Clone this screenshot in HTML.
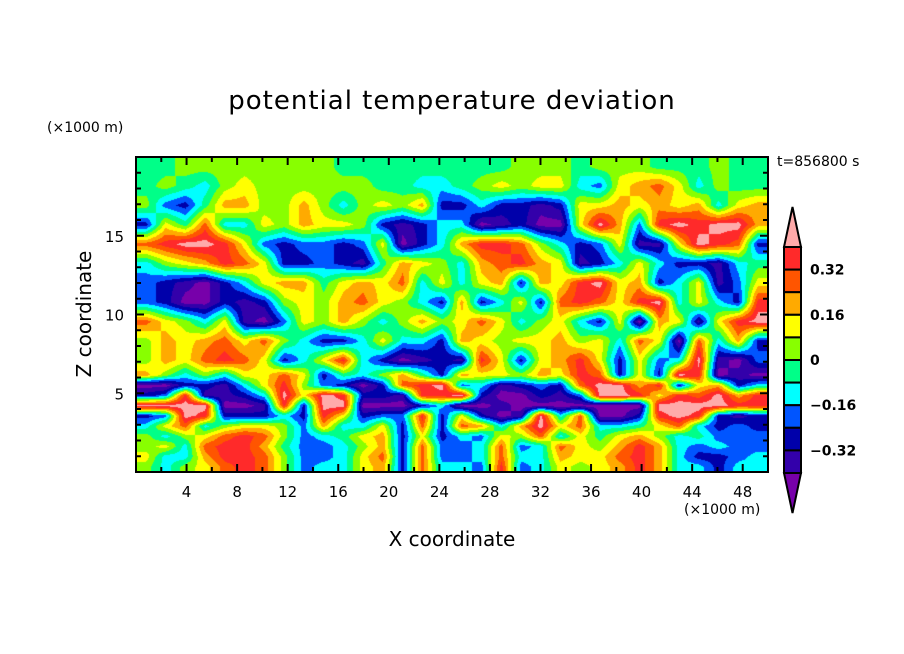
<!DOCTYPE html>
<html><head><meta charset="utf-8">
<style>
html,body{margin:0;padding:0;background:#fff;}
#wrap{position:relative;width:904px;height:654px;overflow:hidden;font-family:"DejaVu Sans","Liberation Sans",sans-serif;color:#000;}
.t{position:absolute;white-space:nowrap;}
canvas{position:absolute;left:136px;top:157px;}
svg{position:absolute;left:0;top:0;}
</style></head>
<body>
<div id="wrap">
<div class="t" style="left:0;width:904px;text-align:center;top:86px;font-size:26px;letter-spacing:1px;">potential temperature deviation</div>
<div class="t" style="left:47px;top:120px;font-size:14px;">(×1000 m)</div>
<div class="t" style="left:777px;top:154px;font-size:14px;">t=856800 s</div>
<div class="t" style="left:-16px;top:302px;width:200px;text-align:center;font-size:20px;transform:rotate(-90deg);">Z coordinate</div>
<div class="t" style="left:300px;width:304px;text-align:center;top:527px;font-size:20px;">X coordinate</div>
<div class="t" style="left:684px;top:502px;font-size:14px;">(×1000 m)</div>
<canvas id="field" width="632" height="315"></canvas>
<svg id="axes" width="904" height="654"></svg>
</div>
<script>
// field grids (values in 0.01 K). Upper: z from 20 km down to ~6.5 km, lower: ~6.5 km to 0
const gridCols = 32;
const upperRows = [
[-4,-4,4,4,4,4,4,4,4,4,-4,-4,-4,-4,-4,-4, -4,-4,-4,4,4,4,-4,4,4,4,-4,-4,-4,4,-4,-4],
[-4,4,-4,-12,4,12,4,4,4,4,4,4,-4,-4,-12,-12, -4,4,12,4,12,12,-12,-20,12,20,28,12,-12,4,-4,-4],
[4,-20,-28,-4,20,20,4,4,20,4,-12,4,12,4,20,-28, -28,-12,-28,-28,-36,-28,12,12,20,12,20,12,20,-12,12,20],
[-28,12,-4,28,-12,-12,12,4,20,12,12,4,-28,-36,-28,-12, -12,-44,-36,-28,-44,-44,12,44,20,-20,36,44,36,44,44,20],
[28,36,44,44,36,12,-20,-28,-20,-20,-28,-20,12,-44,-28,-12, 20,36,36,28,4,-12,-28,-20,12,-36,-36,12,44,36,28,-28],
[-12,4,12,20,36,28,12,-28,-28,-20,-28,-36,-4,20,12,4, -12,20,28,36,20,12,-36,-28,-12,12,-12,-28,-28,-36,-12,-4],
[-20,-28,-36,-44,-28,-12,12,20,20,-4,12,20,12,28,-12,12, -12,12,20,-28,20,12,36,44,12,20,-28,-12,12,-36,-20,12],
[-20,-28,-44,-44,-28,-36,-28,4,12,4,20,28,12,4,-12,-28, 20,-28,-12,12,-28,28,36,28,12,36,44,-12,12,-12,-28,36],
[28,12,4,-12,12,-36,-44,-20,12,4,20,4,-12,4,20,4, 12,28,12,-12,4,12,-12,-28,12,-44,20,12,-36,12,36,44],
[4,20,12,20,28,12,28,4,-12,-28,-28,-12,12,-12,-12,-28, 20,12,4,12,12,20,4,12,-12,28,12,-44,28,-12,20,-28],
[4,20,12,28,36,28,12,-28,-12,12,36,-12,-28,-44,-36,-28, -36,36,12,-28,12,20,36,12,-28,12,-20,-12,44,-36,-44,-20]
];
const lowerRows = [
[20,4,-12,4,-12,12,12,28,12,-28,-4,-12,4,20,-4,-28, 20,12,12,4,20,12,36,28,-28,12,-28,44,36,-44,-36,-44],
[-44,-44,-28,-28,-36,-12,12,36,4,-20,-28,-44,-28,28,36,44, -20,-12,-36,-28,-20,-28,28,44,44,20,36,-28,12,20,-28,-12],
[-28,-20,36,-36,-36,-28,-12,44,12,44,36,-28,-28,-36,36,36, 44,-28,-44,-44,-28,-36,-20,44,44,36,12,36,28,44,20,36],
[44,44,44,44,-44,-44,-36,36,-28,44,44,-44,-44,-44,-28,-12, -44,-44,-36,-44,-44,-44,-44,-44,-44,-44,44,44,44,44,36,36],
[-28,-20,44,36,-28,-28,-28,-12,-28,36,12,-28,-20,-20,36,-28, 12,-28,-44,-36,44,-12,28,-44,-44,-28,36,44,36,-28,-36,-28],
[-12,12,28,-12,4,12,12,4,-20,20,-12,-12,12,-28,28,-28, 28,20,-12,20,44,12,28,-12,-12,-4,12,28,-12,-28,-20,-28],
[4,-12,4,12,28,36,28,4,-20,-12,-4,12,20,-28,12,-28, -12,-20,12,4,28,-12,12,-4,12,20,4,-12,-4,-20,-20,-20],
[4,12,-12,28,36,36,20,-4,-20,-20,-12,4,20,-28,28,-20, -20,-12,28,-20,-12,28,12,4,20,36,20,-12,-20,-12,-20,-20],
[12,-12,-12,20,36,36,28,4,-20,-20,-12,12,28,-28,28,-20, -20,-12,28,-12,-12,20,12,12,28,36,20,-12,-28,-28,-20,-12],
[4,-12,4,12,28,36,28,4,-20,-12,-12,12,20,-28,28,-12, -12,-20,36,-20,-12,12,4,12,20,36,20,-12,-12,-28,-12,-12]
];
const levelBounds = [-40,-32,-24,-16,-8,0,8,16,24,32,40];
const levelColors = ["#7700aa","#3300aa","#0000aa","#0055ff","#00ffff","#00ff88","#88ff00","#ffff00","#ffaa00","#ff5500","#ff2a2a","#ffaaaa"];
const xTicks = [4,8,12,16,20,24,28,32,36,40,44,48];
const yTicks = [5,10,15];
const cbLabels = ["0.32","0.16","0","\u22120.16","\u22120.32"];
const cbLabelValues = [32,16,0,-16,-32];

const PL=136,PT=157,PW=632,PH=315,XMAX=50,ZMAX=20;
const SPLIT=213;
const sx = v => PL + v/XMAX*PW;
const sy = v => PT + PH - v/ZMAX*PH;

function colorIndex(v){let k=0;while(k<levelBounds.length&&v>=levelBounds[k])k++;return k;}
function hex(h){return [parseInt(h.substr(1,2),16),parseInt(h.substr(3,2),16),parseInt(h.substr(5,2),16)];}
const rgb = levelColors.map(hex);

// combined grid with non-uniform row centres
const allRows = upperRows.concat(lowerRows);
const rowY = [];
upperRows.forEach((r,i)=>rowY.push((i+0.5)*SPLIT/upperRows.length));
lowerRows.forEach((r,i)=>rowY.push(SPLIT+(i+0.5)*(PH-SPLIT)/lowerRows.length));

const cv=document.getElementById('field');
const ctx=cv.getContext('2d');
const img=ctx.createImageData(PW,PH);
const cw=PW/gridCols;
let ri=0;
for(let py=0;py<PH;py++){
  const y=py+0.5;
  let r0,r1,fy;
  if(y<=rowY[0]){r0=r1=0;fy=0;}
  else if(y>=rowY[rowY.length-1]){r0=r1=rowY.length-1;fy=0;}
  else{
    while(ri<rowY.length-2 && rowY[ri+1]<y) ri++;
    r0=ri;r1=ri+1;fy=(y-rowY[r0])/(rowY[r1]-rowY[r0]);
  }
  for(let px=0;px<PW;px++){
    let gx=(px+0.5)/cw-0.5; gx=Math.max(0,Math.min(gridCols-1,gx));
    const c0=Math.floor(gx), c1=Math.min(gridCols-1,c0+1), fx=gx-c0;
    const A=allRows[r0],B=allRows[r1];
    const v=(A[c0]*(1-fx)+A[c1]*fx)*(1-fy)+(B[c0]*(1-fx)+B[c1]*fx)*fy;
    const c=rgb[colorIndex(v)];
    const o=(py*PW+px)*4;
    img.data[o]=c[0];img.data[o+1]=c[1];img.data[o+2]=c[2];img.data[o+3]=255;
  }
}
ctx.putImageData(img,0,0);

const svg=document.getElementById('axes');
const NS='http://www.w3.org/2000/svg';
function mk(tag,attrs){const e=document.createElementNS(NS,tag);for(const k in attrs)e.setAttribute(k,attrs[k]);svg.appendChild(e);return e;}

const frame=mk('rect',{x:PL,y:PT,width:PW,height:PH,fill:'none',stroke:'#000','stroke-width':2});



for(let v=2;v<XMAX;v+=2){
  const major = v%4===0, L = major?8:5;
  const t1=mk('line',{x1:sx(v),x2:sx(v),y1:PT+PH,y2:PT+PH-L,stroke:'#000','stroke-width':2});
  
  
  const t2=mk('line',{x1:sx(v),x2:sx(v),y1:PT,y2:PT+L,stroke:'#000','stroke-width':2});
  
  
}
for(let v=1;v<ZMAX;v+=1){
  const major = v%5===0, L = major?8:5;
  const t1=mk('line',{x1:PL,x2:PL+L,y1:sy(v),y2:sy(v),stroke:'#000','stroke-width':2});
  
  
  const t2=mk('line',{x1:PL+PW,x2:PL+PW-L,y1:sy(v),y2:sy(v),stroke:'#000','stroke-width':2});
  
  
}
xTicks.forEach(v=>{
  const t=mk('text',{x:sx(v),y:497,'text-anchor':'middle','font-size':15,'font-family':'DejaVu Sans, Liberation Sans, sans-serif'});
  t.textContent=v;
  
  
});
yTicks.forEach(v=>{
  const t=mk('text',{x:124,y:sy(v)+6,'text-anchor':'end','font-size':15,'font-family':'DejaVu Sans, Liberation Sans, sans-serif'});
  t.textContent=v;
  
  
});

const CBX=784,CBW=17,CBT=247,CBB=473;
const nBox=levelColors.length-2;
const bh=(CBB-CBT)/nBox;
const cbY = v => CBT + (40 - v)/80*(CBB-CBT);
const cbTopTri=mk('polygon',{points:`${CBX},${CBT} ${CBX+CBW/2},207 ${CBX+CBW},${CBT}`,fill:levelColors[levelColors.length-1],stroke:'#000','stroke-width':2});


for(let i=0;i<nBox;i++){
  const col=levelColors[levelColors.length-2-i];
  const r=mk('rect',{x:CBX,y:CBT+i*bh,width:CBW,height:bh,fill:col,stroke:'#000','stroke-width':2});
  
  
}
const cbBotTri=mk('polygon',{points:`${CBX},${CBB} ${CBX+CBW/2},513 ${CBX+CBW},${CBB}`,fill:levelColors[0],stroke:'#000','stroke-width':2});


cbLabels.forEach((s,i)=>{
  const t=mk('text',{x:810,y:cbY(cbLabelValues[i])+5,'font-size':14,'font-weight':'bold','font-family':'DejaVu Sans, Liberation Sans, sans-serif'});
  t.textContent=s;
  
  
});
</script>
</body></html>
